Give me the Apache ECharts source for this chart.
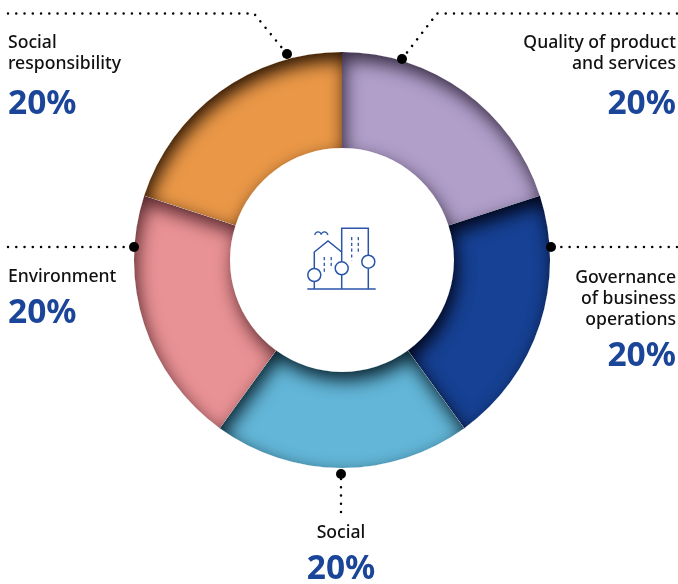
<!DOCTYPE html>
<html>
<head>
<meta charset="utf-8">
<style>html,body{margin:0;padding:0;background:#fff}#c{width:678px;height:584px}</style>
<script src="https://cdn.jsdelivr.net/npm/echarts@6/dist/echarts.min.js"></script>
</head>
<body>
<div id="c"></div>
<script>
const categories = ["Quality of product\nand services", "Governance\nof business\noperations", "Social", "Environment", "Social\nresponsibility"];
const values = [20, 20, 20, 20, 20];
const sliceColors = ["#b19fca", "#164194", "#63b6d8", "#e99295", "#ea9847"];
const shadowColors = ["rgba(30,20,40,0.85)", "rgba(0,0,15,0.95)", "rgba(5,25,35,0.95)", "rgba(45,10,15,0.8)", "rgba(35,15,0,0.98)"];

const CX = 342, CY = 260, R0 = 112, R1 = 208;
const total = values.reduce((a, b) => a + b, 0);

// label placement: [x, y, align, percent-line style]
const labelPlace = [
  [676, 32, "right", "pa"],
  [676, 267, "right", "pb"],
  [341, 522, "center", "pb"],
  [8, 266, "left", "pb"],
  [8, 32, "left", "pa"]
];
const leaders = [
  [[677, 13.5], [437, 13.5], [402, 59]],
  [[677, 247], [551, 247]],
  [[341, 512], [341, 474]],
  [[8, 247], [134, 247]],
  [[8, 13.5], [254, 13.5], [287, 54]]
];

function insetShadow(params, api) {
  const i = params.dataIndex;
  let before = 0;
  for (let k = 0; k < i; k++) before += values[k];
  const a0 = -Math.PI / 2 + before / total * Math.PI * 2;
  const a1 = a0 + api.value(0) / total * Math.PI * 2;
  const pt = (r, a) => (CX + r * Math.cos(a)).toFixed(2) + " " + (CY + r * Math.sin(a)).toFixed(2);
  const d = "M-200 -200 L900 -200 L900 800 L-200 800 Z " +
    "M" + pt(R1, a1) + " A" + R1 + " " + R1 + " 0 0 0 " + pt(R1, a0) +
    " L" + pt(R0, a0) + " A" + R0 + " " + R0 + " 0 0 1 " + pt(R0, a1) + " Z";
  return {
    type: "path",
    shape: { pathData: d, x: -200, y: -200, width: 1100, height: 1000, layout: "cover" },
    style: { fill: "#fff", shadowBlur: 18, shadowColor: shadowColors[i], shadowOffsetX: 3, shadowOffsetY: 8 },
    clipPath: { type: "sector", shape: { cx: CX, cy: CY, r0: R0, r: R1, startAngle: a0, endAngle: a1, clockwise: true } },
    silent: true
  };
}

const graphics = [];
leaders.forEach(points => {
  graphics.push({ type: "polyline", shape: { points: points }, z: 10, silent: true,
    style: { stroke: "#000", fill: null, lineWidth: 2.5, lineCap: "round", lineDash: [0.01, 8.25] } });
  const e = points[points.length - 1];
  graphics.push({ type: "circle", shape: { cx: e[0], cy: e[1], r: 5 }, z: 11, silent: true, style: { fill: "#000" } });
});
const iconStroke = { stroke: "#2a55a8", fill: null, lineWidth: 1.5 };
const iconLines = [
  [[307.3, 289], [375.7, 289]],
  [[314.3, 268.3], [314.3, 252], [328, 241], [341.7, 252]],
  [[341.7, 261.6], [341.7, 228.3], [368.3, 228.3], [368.3, 255]],
  [[368.3, 268.4], [368.3, 289]],
  [[341.7, 275], [341.7, 289]],
  [[314.3, 281.7], [314.3, 289]]
];
iconLines.forEach(pts => graphics.push({ type: "polyline", shape: { points: pts }, z: 10, silent: true, style: iconStroke }));
[[314.6, 235, 316, 231, 320, 231, 321.2, 234.5], [321.2, 234.5, 322.4, 231, 326.6, 231, 328, 235]].forEach(b => {
  graphics.push({ type: "bezierCurve", z: 10, silent: true, style: { stroke: "#2a55a8", fill: null, lineWidth: 1.2 },
    shape: { x1: b[0], y1: b[1], cpx1: b[2], cpy1: b[3], cpx2: b[4], cpy2: b[5], x2: b[6], y2: b[7] } });
});
[[314.3, 275], [341.7, 268.3], [368.3, 261.7]].forEach(c => {
  graphics.push({ type: "circle", shape: { cx: c[0], cy: c[1], r: 6.5 }, z: 10, silent: true,
    style: { stroke: "#2a55a8", fill: "#fff", lineWidth: 1.5 } });
});
const windows = [[324.3, 257, 273.5], [331.2, 257, 268], [351.7, 237, 260.5], [358.3, 237, 254]];
windows.forEach(w => {
  graphics.push({ type: "line", shape: { x1: w[0], y1: w[1], x2: w[0], y2: w[2] }, z: 10, silent: true,
    style: { stroke: "#2a55a8", lineWidth: 1.3, lineDash: [3.2, 2.6] } });
});

const chart = echarts.init(document.getElementById("c"), null, { renderer: "canvas" });
chart.setOption({
  animation: false,
  backgroundColor: "#fff",
  graphic: graphics,
  series: [
    {
      type: "pie",
      name: "Share",
      center: [CX, CY],
      radius: [R0, R1],
      startAngle: 90,
      clockwise: true,
      avoidLabelOverlap: false,
      silent: true,
      data: categories.map((c, i) => ({ name: c, value: values[i], itemStyle: { color: sliceColors[i] } })),
      labelLine: { show: false },
      label: {
        show: true,
        position: "outside",
        formatter: p => {
          const lines = p.name.split("\n").map(l => "{n|" + l + "}");
          return lines.join("\n") + "\n{" + labelPlace[p.dataIndex][3] + "|" + Math.round(p.percent) + "%}";
        },
        rich: {
          n: { fontFamily: "Noto Sans", fontSize: 17.6, fontWeight: 500, color: "#111", lineHeight: 21 },
          pa: { fontFamily: "Noto Sans", fontSize: 33.5, fontWeight: "bold", color: "#1a4599", lineHeight: 61 },
          pb: { fontFamily: "Noto Sans", fontSize: 33.5, fontWeight: "bold", color: "#1a4599", lineHeight: 53 }
        }
      },
      labelLayout: p => {
        const lp = labelPlace[p.dataIndex];
        return { x: lp[0], y: lp[1], align: lp[2], verticalAlign: "top", hideOverlap: false };
      },
      z: 2
    },
    {
      type: "custom",
      name: "Inset shadow",
      coordinateSystem: "none",
      silent: true,
      data: values.map(v => [v]),
      renderItem: insetShadow,
      z: 3
    }
  ]
});
</script>
</body>
</html>
